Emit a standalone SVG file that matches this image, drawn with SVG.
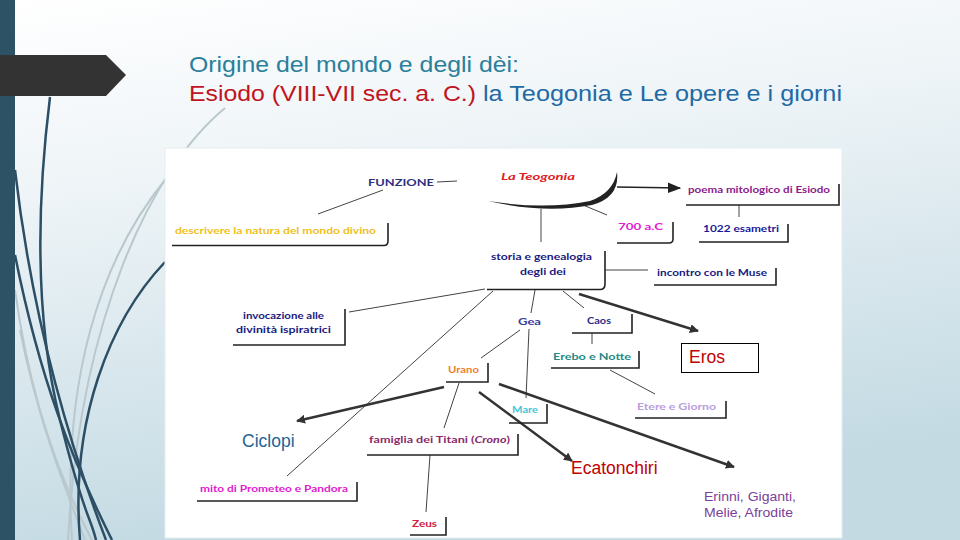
<svg xmlns="http://www.w3.org/2000/svg" width="960" height="540" viewBox="0 0 960 540">
<defs>
<linearGradient id="bg" x1="0" y1="0" x2="0.25" y2="1">
<stop offset="0" stop-color="#ffffff"/>
<stop offset="0.35" stop-color="#eef4f7"/>
<stop offset="1" stop-color="#c3dae3"/>
</linearGradient>
<marker id="ah" viewBox="0 0 10 10" refX="9" refY="5" markerWidth="3.6" markerHeight="3.6" orient="auto" markerUnits="strokeWidth">
<path d="M0,0 L10,5 L0,10 z" fill="#333"/>
</marker>
<marker id="ah2" viewBox="0 0 10 10" refX="9" refY="5" markerWidth="9" markerHeight="9" orient="auto" markerUnits="strokeWidth">
<path d="M0,1 L10,5 L0,9 z" fill="#222"/>
</marker>
<style>
.t{font-family:"Lato","DejaVu Sans",sans-serif;font-weight:bold;font-size:10px}
.big{font-family:"Liberation Sans",Arial,sans-serif;font-size:17.5px}
.frame{fill:none;stroke:#222;stroke-width:1.6}
.ln{stroke:#444;stroke-width:1;fill:none}
.th{stroke:#333;stroke-width:2.5;fill:none;marker-end:url(#ah)}
.deco-d{fill:none;stroke:#2c4f66;stroke-width:2.5}
.deco-l{fill:none;stroke:#b9c8ce;stroke-width:2}
</style>
</defs>
<rect width="960" height="540" fill="url(#bg)"/>
<g id="decor">
<path class="deco-l" d="M225 108 C150 170 80 320 68 540"/>
<path class="deco-l" d="M15 290 C30 400 60 480 92 540"/>
<path class="deco-l" d="M165 180 C100 260 62 380 72 540"/>
<path class="deco-l" d="M20 330 C40 430 70 500 85 540"/>
<path class="deco-d" d="M50 97 C36 210 35 320 60 420 S 90 515 96 540"/>
<path class="deco-d" d="M15 170 C30 300 60 420 106 540"/>
<path class="deco-d" d="M165 262 C110 320 70 420 80 540"/>
<path class="deco-d" d="M15 255 C40 380 72 460 112 540"/>
<rect x="0" y="0" width="15" height="540" fill="#2d5266"/>
<polygon points="0,55 106,55 126,75 106,96 0,96" fill="#333333"/>
</g>
<g id="title" font-family="'Liberation Sans',Arial,sans-serif" font-size="22">
<text x="189" y="72" fill="#2a7f9a" textLength="330" lengthAdjust="spacingAndGlyphs">Origine del mondo e degli dèi:</text>
<text y="101"><tspan x="189" fill="#c0141e" textLength="287" lengthAdjust="spacingAndGlyphs">Esiodo (VIII-VII sec. a. C.)</tspan><tspan x="483" fill="#1f6aa5" textLength="359" lengthAdjust="spacingAndGlyphs">la Teogonia e Le opere e i giorni</tspan></text>
</g>
<rect id="panel" x="165" y="148" width="677" height="390" fill="#ffffff" stroke="#e3edf0" stroke-width="1"/>
<g id="connectors">
<line class="ln" x1="437" y1="182" x2="457" y2="181"/>
<line class="ln" x1="383" y1="190" x2="318" y2="214"/>
<line class="ln" x1="583" y1="205" x2="607" y2="215"/>
<line class="ln" x1="541" y1="209" x2="541" y2="242"/>
<line class="ln" x1="739" y1="205" x2="739" y2="217"/>
<line class="ln" x1="605" y1="270" x2="648" y2="270"/>
<line class="ln" x1="349" y1="312" x2="485" y2="289"/>
<line class="ln" x1="493" y1="291" x2="287" y2="476"/>
<line class="ln" x1="535" y1="290" x2="531" y2="313"/>
<line class="ln" x1="563" y1="291" x2="584" y2="308"/>
<line class="ln" x1="592" y1="333" x2="592" y2="344"/>
<line class="ln" x1="520" y1="330" x2="481" y2="358"/>
<line class="ln" x1="529" y1="329" x2="526" y2="398"/>
<line class="ln" x1="610" y1="370" x2="655" y2="394"/>
<line class="ln" x1="459" y1="383" x2="444" y2="428"/>
<line class="ln" x1="430" y1="455" x2="426" y2="512"/>
<line stroke="#222" stroke-width="1.5" x1="617" y1="187" x2="680" y2="188" marker-end="url(#ah2)"/>
<line class="th" x1="579" y1="294" x2="698" y2="331"/>
<line class="th" x1="444" y1="387" x2="297" y2="421"/>
<line class="th" x1="479" y1="392" x2="572" y2="461"/>
<line class="th" x1="499" y1="384" x2="734" y2="467"/>
</g>
<g id="n-teogonia">
<path d="M488 201 Q545 214 592 205 Q620 197 617 172 Q613 193 590 201 Q545 210 488 201 Z" fill="#222"/>
<text class="t" x="501" y="180" fill="#e0201e" font-size="12" font-style="italic" textLength="74" lengthAdjust="spacingAndGlyphs">La Teogonia</text>
</g>
<g id="n-funzione">
<text class="t" x="368" y="186" fill="#2e2e80" textLength="66" lengthAdjust="spacingAndGlyphs">FUNZIONE</text>
</g>
<g id="n-descrivere">
<path class="frame" d="M172 245.5 H384 Q388 245.5 388 241 V223"/>
<text class="t" x="175" y="234" fill="#f0c020" textLength="201" lengthAdjust="spacingAndGlyphs">descrivere la natura del mondo divino</text>
</g>
<g id="n-poema">
<path class="frame" d="M686 205 H839 V184"/>
<text class="t" x="688" y="193" fill="#8b1a8b" textLength="142" lengthAdjust="spacingAndGlyphs">poema mitologico di Esiodo</text>
</g>
<g id="n-esametri">
<path class="frame" d="M699 242 H788 V224"/>
<text class="t" x="703" y="232" fill="#1a1a9a" textLength="76" lengthAdjust="spacingAndGlyphs">1022 esametri</text>
</g>
<g id="n-700">
<path class="frame" d="M617 243 H669 Q673 243 673 239 V222"/>
<text class="t" x="618" y="230" fill="#e020d0" textLength="45" lengthAdjust="spacingAndGlyphs">700 a.C</text>
</g>
<g id="n-storia">
<path class="frame" d="M487 289.5 H600 Q605 289.5 605 284 V251"/>
<text class="t" x="491" y="260" fill="#1a1a80" textLength="101" lengthAdjust="spacingAndGlyphs">storia e genealogia</text>
<text class="t" x="520" y="275" fill="#1a1a80" textLength="46" lengthAdjust="spacingAndGlyphs">degli dei</text>
</g>
<g id="n-muse">
<path class="frame" d="M654 285 H776 V268"/>
<text class="t" x="657" y="276" fill="#1a1a80" textLength="110" lengthAdjust="spacingAndGlyphs">incontro con le Muse</text>
</g>
<g id="n-invocazione">
<path class="frame" d="M233 345 H345 V309"/>
<text class="t" x="243" y="319" fill="#1a1a80" textLength="81" lengthAdjust="spacingAndGlyphs">invocazione alle</text>
<text class="t" x="236" y="333" fill="#1a1a80" textLength="95" lengthAdjust="spacingAndGlyphs">divinità ispiratrici</text>
</g>
<g id="n-gea">
<text class="t" x="518" y="325" fill="#3a3a9a" textLength="23" lengthAdjust="spacingAndGlyphs">Gea</text>
</g>
<g id="n-caos">
<path class="frame" d="M572 333 H632 V314"/>
<text class="t" x="587" y="324" fill="#2a2a8a" textLength="24" lengthAdjust="spacingAndGlyphs">Caos</text>
</g>
<g id="n-erebo">
<path class="frame" d="M551 368 H639 V351"/>
<text class="t" x="553" y="360" fill="#1f8a84" textLength="78" lengthAdjust="spacingAndGlyphs">Erebo e Notte</text>
</g>
<g id="n-etere">
<path class="frame" d="M635 418 H726 V401"/>
<text class="t" x="637" y="410" fill="#b99de0" textLength="79" lengthAdjust="spacingAndGlyphs">Etere e Giorno</text>
</g>
<g id="n-urano">
<path class="frame" d="M446 382 H488 V363"/>
<text class="t" x="448" y="373" fill="#f08030" textLength="31" lengthAdjust="spacingAndGlyphs">Urano</text>
</g>
<g id="n-mare">
<path class="frame" d="M509 423 H547 V404"/>
<text class="t" x="512" y="413" fill="#40c8d8" textLength="26" lengthAdjust="spacingAndGlyphs">Mare</text>
</g>
<g id="n-famiglia">
<path class="frame" d="M367 455 H518 V434"/>
<text class="t" x="369" y="443" fill="#8a2a6a" textLength="141" lengthAdjust="spacingAndGlyphs">famiglia dei Titani (<tspan font-style="italic">Crono</tspan>)</text>
</g>
<g id="n-zeus">
<path class="frame" d="M410 535 H446 V517"/>
<text class="t" x="412" y="527" fill="#d02040" textLength="25" lengthAdjust="spacingAndGlyphs">Zeus</text>
</g>
<g id="n-mito">
<path class="frame" d="M197 501 H357 V482"/>
<text class="t" x="200" y="492" fill="#e020d0" textLength="148" lengthAdjust="spacingAndGlyphs">mito di Prometeo e Pandora</text>
</g>
<g id="n-ciclopi">
<text class="big" x="242" y="447" fill="#1e6496">Ciclopi</text>
</g>
<g id="n-eros">
<rect x="681.5" y="343.5" width="77" height="29" fill="#fff" stroke="#000" stroke-width="1"/>
<text class="big" x="689" y="363" fill="#c00000">Eros</text>
</g>
<g id="n-ecatonchiri">
<text class="big" x="571" y="474" fill="#c00000">Ecatonchiri</text>
</g>
<g id="n-erinni" font-family="'Liberation Sans',Arial,sans-serif" font-size="13" fill="#7b3f9b">
<text x="704" y="501" textLength="92" lengthAdjust="spacingAndGlyphs">Erinni, Giganti,</text>
<text x="704" y="517" textLength="89" lengthAdjust="spacingAndGlyphs">Melie, Afrodite</text>
</g>
</svg>
